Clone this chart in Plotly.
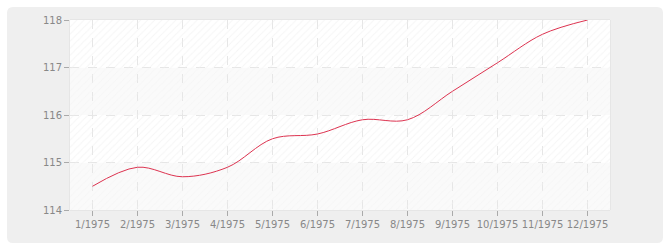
import plotly.graph_objects as go

categories = ["1/1975", "2/1975", "3/1975", "4/1975", "5/1975", "6/1975",
              "7/1975", "8/1975", "9/1975", "10/1975", "11/1975", "12/1975"]
values = [114.5, 114.9, 114.7, 114.9, 115.5, 115.6,
          115.9, 115.9, 116.5, 117.1, 117.7, 118.0]
y_ticks = [114, 115, 116, 117, 118]

W, H = 670, 250
L, R, T, B = 70, 60, 20, 40
pw, ph = W - L - R, H - T - B

def px_x(p):
    return (p - L) / pw

def px_y(p):
    return (H - B - p) / ph

xs = list(range(len(categories)))
x0, x1 = -0.5, len(categories) - 0.5

fig = go.Figure()

# outer rounded box
bx0, bx1 = px_x(7), px_x(663)
by0, by1 = px_y(243), px_y(7)
rx, ry = 6 / pw, 6 / ph
path = (f"M {bx0+rx},{by0} L {bx1-rx},{by0} Q {bx1},{by0} {bx1},{by0+ry} "
        f"L {bx1},{by1-ry} Q {bx1},{by1} {bx1-rx},{by1} L {bx0+rx},{by1} "
        f"Q {bx0},{by1} {bx0},{by1-ry} L {bx0},{by0+ry} Q {bx0},{by0} {bx0+rx},{by0} Z")
shapes = [
    dict(type="path", xref="paper", yref="paper", path=path,
         fillcolor="#efefef", line=dict(width=0), layer="below"),
    dict(type="rect", xref="paper", yref="paper", x0=0, x1=1, y0=0, y1=1,
         fillcolor="#ffffff", line=dict(color="#dddddd", width=1), layer="below"),
]
# alternating band backgrounds
for lo, hi in zip(y_ticks[:-1], y_ticks[1:]):
    strong = (lo % 2 == 1)
    shapes.append(dict(type="rect", xref="x", yref="y", x0=x0, x1=x1, y0=lo, y1=hi,
                       fillcolor="#ffffff" if strong else "#fafafa",
                       line=dict(width=0), layer="below"))
    fig.add_trace(go.Scatter(
        x=[x0, x1, x1, x0, x0], y=[lo, lo, hi, hi, lo], mode="lines",
        line=dict(width=0), fill="toself", fillcolor="rgba(255,255,255,0)",
        fillpattern=dict(shape="/", size=5, solidity=0.2,
                         fgcolor="#ececec" if strong else "#f2f2f2",
                         bgcolor="rgba(255,255,255,0)", fillmode="overlay"),
        hoverinfo="skip", showlegend=False))

fig.add_trace(go.Scatter(
    x=xs, y=values, mode="lines",
    line=dict(color="#dd3350", width=1, shape="spline", smoothing=1),
    showlegend=False))

fig.update_layout(
    width=W, height=H, margin=dict(l=L, r=R, t=T, b=B),
    paper_bgcolor="#ffffff", plot_bgcolor="rgba(0,0,0,0)",
    shapes=shapes,
    font=dict(family="DejaVu Sans", size=10, color="#888888"),
    xaxis=dict(range=[x0, x1], tickvals=xs, ticktext=categories,
               showgrid=True, gridcolor="#e6e6e6", griddash="dash", gridwidth=1,
               ticks="outside", ticklen=5, tickcolor="#aaaaaa",
               showline=False, zeroline=False, fixedrange=True),
    yaxis=dict(range=[114, 118], tickvals=y_ticks,
               showgrid=True, gridcolor="#e6e6e6", griddash="dash", gridwidth=1,
               ticks="outside", ticklen=5, tickcolor="#aaaaaa",
               showline=False, zeroline=False, fixedrange=True),
)

fig.write_html("out.html")
